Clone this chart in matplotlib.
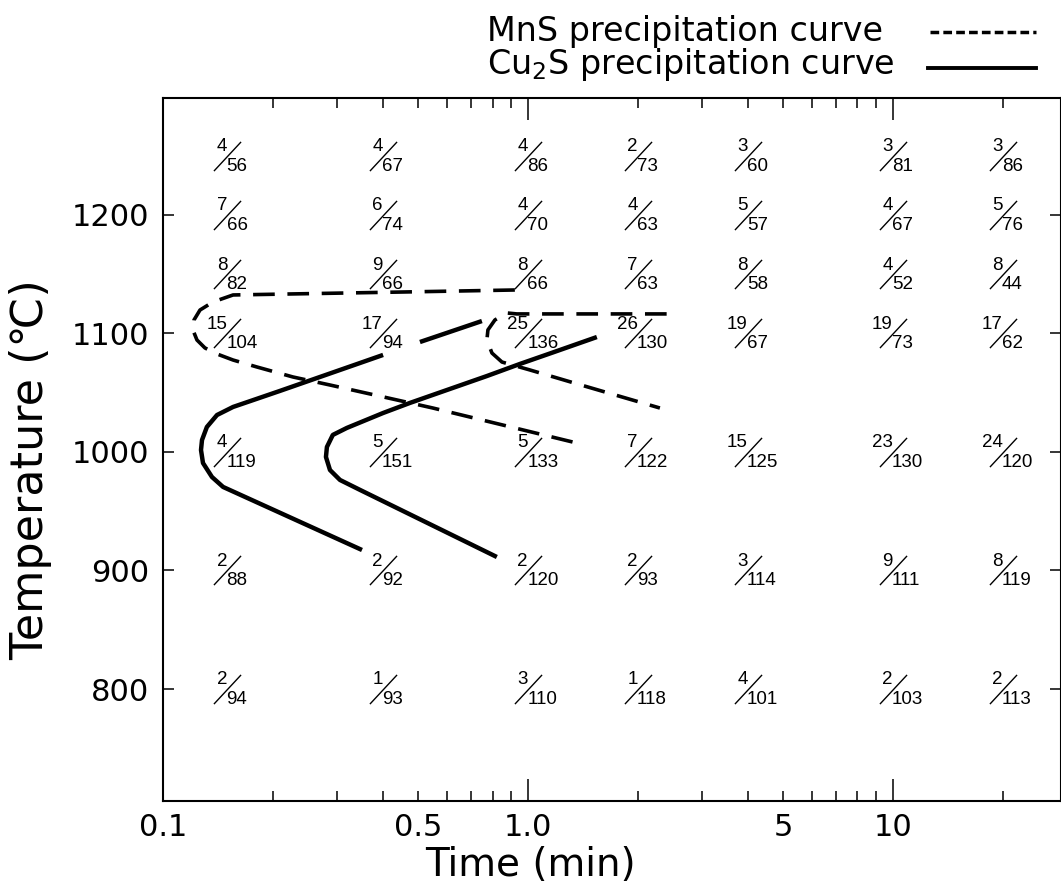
import numpy as np
import matplotlib
matplotlib.use("Agg")
import matplotlib.pyplot as plt
from matplotlib.path import Path
from matplotlib.lines import Line2D
from matplotlib.ticker import FixedLocator, FixedFormatter, FuncFormatter, NullLocator


# measurement grid (time in min, temperature in C)
times = [0.15, 0.4, 1.0, 2.0, 4.0, 10.0, 20.0]
temps = [1250, 1200, 1150, 1100, 1000, 900, 800]

# upper / lower numbers written at each grid point
numerators = [
    [4, 4, 4, 2, 3, 3, 3],
    [7, 6, 4, 4, 5, 4, 5],
    [8, 9, 8, 7, 8, 4, 8],
    [15, 17, 25, 26, 19, 19, 17],
    [4, 5, 5, 7, 15, 23, 24],
    [2, 2, 2, 2, 3, 9, 8],
    [2, 1, 3, 1, 4, 2, 2],
]
denominators = [
    [56, 67, 86, 73, 60, 81, 86],
    [66, 74, 70, 63, 57, 67, 76],
    [82, 66, 66, 63, 58, 52, 44],
    [104, 94, 136, 130, 67, 73, 62],
    [119, 151, 133, 122, 125, 130, 120],
    [88, 92, 120, 93, 114, 111, 119],
    [94, 93, 110, 118, 101, 103, 113],
]

# MnS precipitation curves (dashed)
mns_a_t = [0.921, 0.455, 0.1556, 0.1371, 0.1263, 0.1216, 0.1208, 0.1239, 0.1303,
           0.1406, 0.1556, 0.181, 0.227, 0.287, 0.4375, 0.549, 1.36]
mns_a_T = [1136.7, 1135.0, 1132.5, 1126.6, 1119.8, 1111.4, 1102.9, 1094.5, 1087.8,
           1082.7, 1077.6, 1071.7, 1063.3, 1056.5, 1043.9, 1037.1, 1007.6]
mns_b_t = [2.40, 0.933, 0.876, 0.812, 0.777, 0.772, 0.797, 0.849, 1.013, 1.36, 2.30]
mns_b_T = [1116.5, 1116.5, 1117.3, 1111.4, 1103.0, 1094.5, 1083.5, 1075.9, 1069.2,
           1057.6, 1037.1]

# Cu2S precipitation curves (solid); the left one is broken behind "17/94"
cu_a_top_t = [0.748, 0.506]
cu_a_top_T = [1110.5, 1092.8]
cu_a_t = [0.401, 0.3467, 0.209, 0.1556, 0.1406, 0.1319, 0.1279, 0.1271, 0.1287,
          0.1362, 0.1461, 0.1626, 0.351]
cu_a_T = [1081.9, 1075.1, 1051.5, 1038.0, 1031.2, 1021.1, 1010.1, 1001.7, 990.7,
          978.9, 970.5, 964.0, 917.3]
cu_b_t = [1.545, 1.171, 0.951, 0.772, 0.475, 0.401, 0.319, 0.292, 0.2813, 0.2796,
          0.2868, 0.3055, 0.3467, 0.822]
cu_b_T = [1097.0, 1084.0, 1074.3, 1064.1, 1041.4, 1032.9, 1020.3, 1014.4, 1004.2,
          995.8, 984.8, 976.4, 968.0, 911.4]

x_major = [1.0, 10.0]
x_major_labels = ["1.0", "10"]
x_minor = [0.1, 0.2, 0.3, 0.4, 0.5, 0.6, 0.7, 0.8, 0.9,
           2, 3, 4, 5, 6, 7, 8, 9, 20]
x_minor_labels = {0.1: "0.1", 0.5: "0.5", 5.0: "5"}
y_ticks = [800, 900, 1000, 1100, 1200]

frac_font = ["Liberation Sans", "DejaVu Sans"]

fig = plt.figure(figsize=(10.61, 8.93), dpi=100)
ax = fig.add_axes([163 / 1061, 1 - 801 / 893, 1 - 163 / 1061, (801 - 98) / 893])
ax.set_xscale("log")
ax.set_xlim(0.1, 28.9)
ax.set_ylim(705.5, 1298.7)

for sp in ax.spines.values():
    sp.set_linewidth(1.5)

# curves
dash_kw = dict(color="black", lw=2.6, dashes=(6, 3.5), dash_capstyle="butt",
               dash_joinstyle="round")
solid_kw = dict(color="black", lw=3.2, solid_joinstyle="round", solid_capstyle="butt")
ax.plot(mns_a_t, mns_a_T, **dash_kw)
ax.plot(mns_b_t, mns_b_T, **dash_kw)
ax.plot(cu_a_top_t, cu_a_top_T, **solid_kw)
ax.plot(cu_a_t, cu_a_T, **solid_kw)
ax.plot(cu_b_t, cu_b_T, **solid_kw)

# fractions at each grid point
slash = Path([(-0.93, -1.0), (0.93, 1.0)], [Path.MOVETO, Path.LINETO])
for i, T in enumerate(temps):
    for j, t in enumerate(times):
        ax.plot(t, T, linestyle="none", marker=slash, markersize=21,
                mew=1.0, mec="black", mfc="none")
        ax.annotate(str(numerators[i][j]), xy=(t, T), xytext=(0, 6.5),
                    textcoords="offset points", ha="right", va="center",
                    fontsize=13.5, family=frac_font)
        ax.annotate(str(denominators[i][j]), xy=(t, T), xytext=(-0.5, -7.5),
                    textcoords="offset points", ha="left", va="center",
                    fontsize=13.5, family=frac_font)

# ticks
ax.xaxis.set_major_locator(FixedLocator(x_major))
ax.xaxis.set_major_formatter(FixedFormatter(x_major_labels))
ax.xaxis.set_minor_locator(FixedLocator(x_minor))
ax.xaxis.set_minor_formatter(FuncFormatter(lambda v, p: x_minor_labels.get(round(v, 3), "")))
ax.set_yticks(y_ticks)
ax.yaxis.set_minor_locator(NullLocator())

ax.tick_params(which="both", direction="in", top=True, right=True, width=1.1)
ax.tick_params(axis="y", length=8, labelsize=22, pad=10)
ax.tick_params(axis="x", which="major", length=16, labelsize=22, pad=9)
ax.tick_params(axis="x", which="minor", length=7, labelsize=22, pad=9)

ax.set_xlabel("Time (min)", fontsize=28)
ax.xaxis.set_label_coords(0.4087, -0.064)
ax.set_ylabel("Temperature (℃)", fontsize=32)
ax.yaxis.set_label_coords(-0.1236, 0.471)

# legend written above the frame
fig.text(487 / 1061, 1 - 41 / 893, "MnS precipitation curve", fontsize=24, va="baseline")
fig.text(487 / 1061, 1 - 74 / 893, "Cu$_2$S precipitation curve", fontsize=24, va="baseline")
fig.add_artist(Line2D([930 / 1061, 1036 / 1061], [1 - 32 / 893] * 2,
                      transform=fig.transFigure, color="black", lw=2.5, dashes=(2.5, 1.2)))
fig.add_artist(Line2D([928 / 1061, 1036 / 1061], [1 - 68 / 893] * 2,
                      transform=fig.transFigure, color="black", lw=2.8))

fig.savefig("out.png", dpi=100)
